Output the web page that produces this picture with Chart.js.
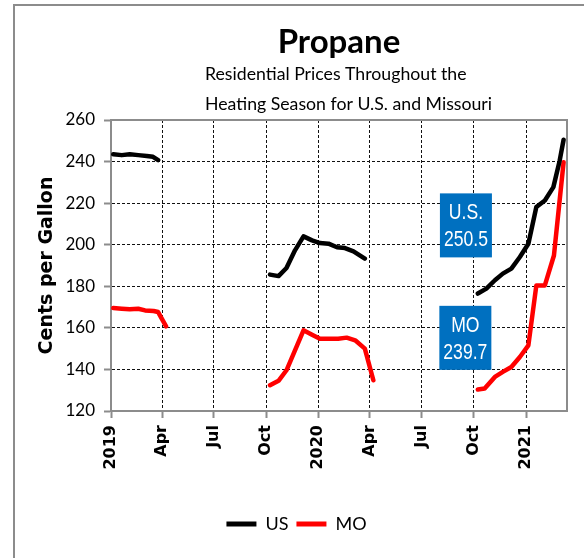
<!DOCTYPE html>
<html><head><meta charset="utf-8">
<script src="https://cdn.jsdelivr.net/npm/chart.js@4.4.1/dist/chart.umd.min.js"></script>
<style>html,body{margin:0;padding:0;background:#fff}#wrap{width:584px;height:558px;position:relative}</style>
</head><body><div id="wrap"><canvas id="c" width="584" height="558"></canvas></div>
<script>
// ---- data (null price = break between heating seasons) ----
const seriesNames = ['US', 'MO'];
const usDates = ['2019-01-05','2019-01-20','2019-02-03','2019-02-18','2019-03-05','2019-03-16','2019-03-25',
  '2019-07-01',
  '2019-10-08','2019-10-23','2019-11-06','2019-11-21','2019-12-06','2019-12-21','2020-01-04','2020-01-19','2020-02-03','2020-02-17','2020-03-03','2020-03-23',
  '2020-07-01',
  '2020-10-08','2020-10-23','2020-11-07','2020-11-21','2020-12-06','2020-12-21','2021-01-05','2021-01-19','2021-02-03','2021-02-18','2021-03-01','2021-03-08'];
const usPrices = [243.5,243.1,243.5,243.1,242.7,242.3,240.7,
  null,
  185.6,184.9,188.8,197.3,204.0,202.1,200.8,200.5,198.8,198.4,196.8,193.3,
  null,
  176.5,178.9,182.9,186.1,188.5,194.1,200.5,218.1,221.3,227.7,240.3,250.5];
const moDates = ['2019-01-05','2019-01-20','2019-02-03','2019-02-18','2019-03-02','2019-03-17','2019-03-25','2019-04-08',
  '2019-07-01',
  '2019-10-08','2019-10-23','2019-11-06','2019-11-21','2019-12-06','2019-12-21','2020-01-04','2020-01-22','2020-02-05','2020-02-20','2020-03-06','2020-03-23','2020-04-07',
  '2020-07-01',
  '2020-10-08','2020-10-20','2020-11-07','2020-11-21','2020-12-06','2020-12-21','2021-01-05','2021-01-19','2021-02-03','2021-02-19','2021-03-08'];
const moPrices = [169.5,169.2,168.9,169.2,168.4,168.1,167.6,160.7,
  null,
  132.4,134.5,139.6,149.2,158.8,156.7,154.8,154.8,154.8,155.3,154.0,150.0,134.8,
  null,
  130.3,130.8,136.4,138.8,141.2,146.0,151.6,180.4,180.4,194.8,239.7];
const tickDates = ['2019-01-01','2019-04-01','2019-07-01','2019-10-01','2020-01-01','2020-04-01','2020-07-01','2020-10-01','2021-01-01'];
const tickLabels = ['2019','Apr','Jul','Oct','2020','Apr','Jul','Oct','2021'];
const axisStartDate = '2019-01-01';
const axisEndDate = '2021-03-14';
const yTicks = [120,140,160,180,200,220,240,260];
const boxLabels = ['U.S.', 'MO'];
const titleText = 'Propane';
const subtitleLines = ['Residential Prices Throughout the', 'Heating Season for U.S. and Missouri'];

// ---- helpers ----
function dayNum(s){const [y,m,d]=s.split('-').map(Number);const [y0,m0,d0]=axisStartDate.split('-').map(Number);return (Date.UTC(y,m-1,d)-Date.UTC(y0,m0-1,d0))/86400000;}
function pts(dates, vals){return dates.map((d,i)=>({x:dayNum(d), y:vals[i]}));}
const tickDays = tickDates.map(dayNum);
const CAL = "Lato,'Liberation Sans',sans-serif";
const ARIAL = "'Liberation Sans',Arial,sans-serif";
const VERD = "'DejaVu Sans',Verdana,sans-serif";
const grey = '#8c8c8c';
const colors = ['#000000', '#ff0000'];

const framePlugin = {
  id:'frame',
  beforeDraw(chart){
    const c = chart.ctx; c.save(); c.fillStyle='#fff'; c.fillRect(0,0,chart.width,chart.height);
    c.strokeStyle=grey; c.lineWidth=2; c.strokeRect(14,5,576,560); c.restore();
  },
  beforeDatasetsDraw(chart){
    const a = chart.chartArea, c = chart.ctx; c.save(); c.strokeStyle=grey; c.lineWidth=2;
    c.beginPath(); c.moveTo(a.left,a.top); c.lineTo(a.right,a.top); c.lineTo(a.right,a.bottom); c.stroke(); c.restore();
  },
  afterDraw(chart){
    // subtitle block: left-aligned lines below the title
    const c = chart.ctx, tb = chart.titleBlock, a = chart.chartArea;
    c.save(); c.fillStyle='#000'; c.font="17.7px "+CAL; c.textAlign='left'; c.textBaseline='middle';
    const x0 = a.left + 94, y0 = tb.bottom - 61 + 15;
    subtitleLines.forEach((t,i)=>c.fillText(t, x0, y0 + i*30));
    c.restore();
  }
};
const boxPlugin = {
  id:'boxes',
  afterDatasetsDraw(chart){
    const c = chart.ctx, xs = chart.scales.x, ys = chart.scales.y;
    const last = [usPrices[usPrices.length-1], moPrices[moPrices.length-1]];
    const anchors = [[dayNum('2020-09-17'),209.3],[dayNum('2020-09-16'),155.2]];
    anchors.forEach((an,i)=>{
      const cx = xs.getPixelForValue(an[0]), cy = ys.getPixelForValue(an[1]);
      c.save();
      c.fillStyle='#0070c0'; c.fillRect(cx-26, cy-32, 52, 64);
      c.translate(cx, cy); c.scale(0.8, 1);
      c.fillStyle='#fff'; c.font="22px "+ARIAL; c.textAlign='center'; c.textBaseline='middle';
      c.fillText(boxLabels[i], 0, -12);
      c.fillText(last[i].toFixed(1), 0, 15);
      c.restore();
    });
  }
};

new Chart(document.getElementById('c'), {
  type:'line',
  data:{datasets:[
    {label:seriesNames[0], data:pts(usDates,usPrices), borderColor:colors[0], backgroundColor:colors[0], borderWidth:4.5, pointRadius:0, spanGaps:false, tension:0, borderJoinStyle:'round', borderCapStyle:'round'},
    {label:seriesNames[1], data:pts(moDates,moPrices), borderColor:colors[1], backgroundColor:colors[1], borderWidth:4.5, pointRadius:0, spanGaps:false, tension:0, borderJoinStyle:'round', borderCapStyle:'round'}
  ]},
  options:{
    responsive:false, animation:false, devicePixelRatio:1,
    layout:{padding:{left:26,right:17,top:0,bottom:15}},
    scales:{
      x:{type:'linear', min:0, max:dayNum(axisEndDate),
        afterBuildTicks:(s)=>{s.ticks = tickDays.map(v=>({value:v}));},
        afterFit:(s)=>{s.height=96;},
        ticks:{autoSkip:false, maxRotation:90, minRotation:90, padding:7, color:'#000', font:{family:VERD,size:16,weight:'bold'},
          callback:(v,i)=>tickLabels[i]},
        grid:{color:(ctx)=> (ctx.tick && ctx.tick.value===0) ? 'rgba(0,0,0,0)' : '#111', lineWidth:1, tickLength:7, tickColor:grey, tickWidth:2},
        border:{display:true, color:grey, width:2, dash:[3,2]}
      },
      y:{min:120, max:260,
        afterBuildTicks:(s)=>{s.ticks = yTicks.map(v=>({value:v}));},
        afterFit:(s)=>{s.width=85;},
        ticks:{padding:9, color:'#000', font:{family:CAL,size:17}},
        grid:{color:(ctx)=> (ctx.tick && (ctx.tick.value===120||ctx.tick.value===260)) ? 'rgba(0,0,0,0)' : '#111', lineWidth:1, tickLength:7, tickColor:grey, tickWidth:2},
        border:{display:true, color:grey, width:2, dash:[3,2]},
        title:{display:true, text:'Cents per Gallon', color:'#000', font:{family:VERD,size:19,weight:'bold',lineHeight:1.0}, padding:{top:12,bottom:0}}
      }
    },
    plugins:{
      title:{display:true, text:titleText, color:'#000', fullSize:false, font:{family:CAL,size:33,weight:'bold',lineHeight:1.0}, padding:{top:26,bottom:61}},
      subtitle:{display:false},
      legend:{position:'bottom', labels:{color:'#000', font:{family:CAL,size:18}, boxWidth:30, boxHeight:5, padding:8,
        generateLabels:(chart)=>chart.data.datasets.map((d,i)=>({text:d.label, fillStyle:d.borderColor, strokeStyle:d.borderColor, lineWidth:0, datasetIndex:i, hidden:false}))}},
      tooltip:{enabled:false}
    }
  },
  plugins:[framePlugin, boxPlugin]
});
</script></body></html>
